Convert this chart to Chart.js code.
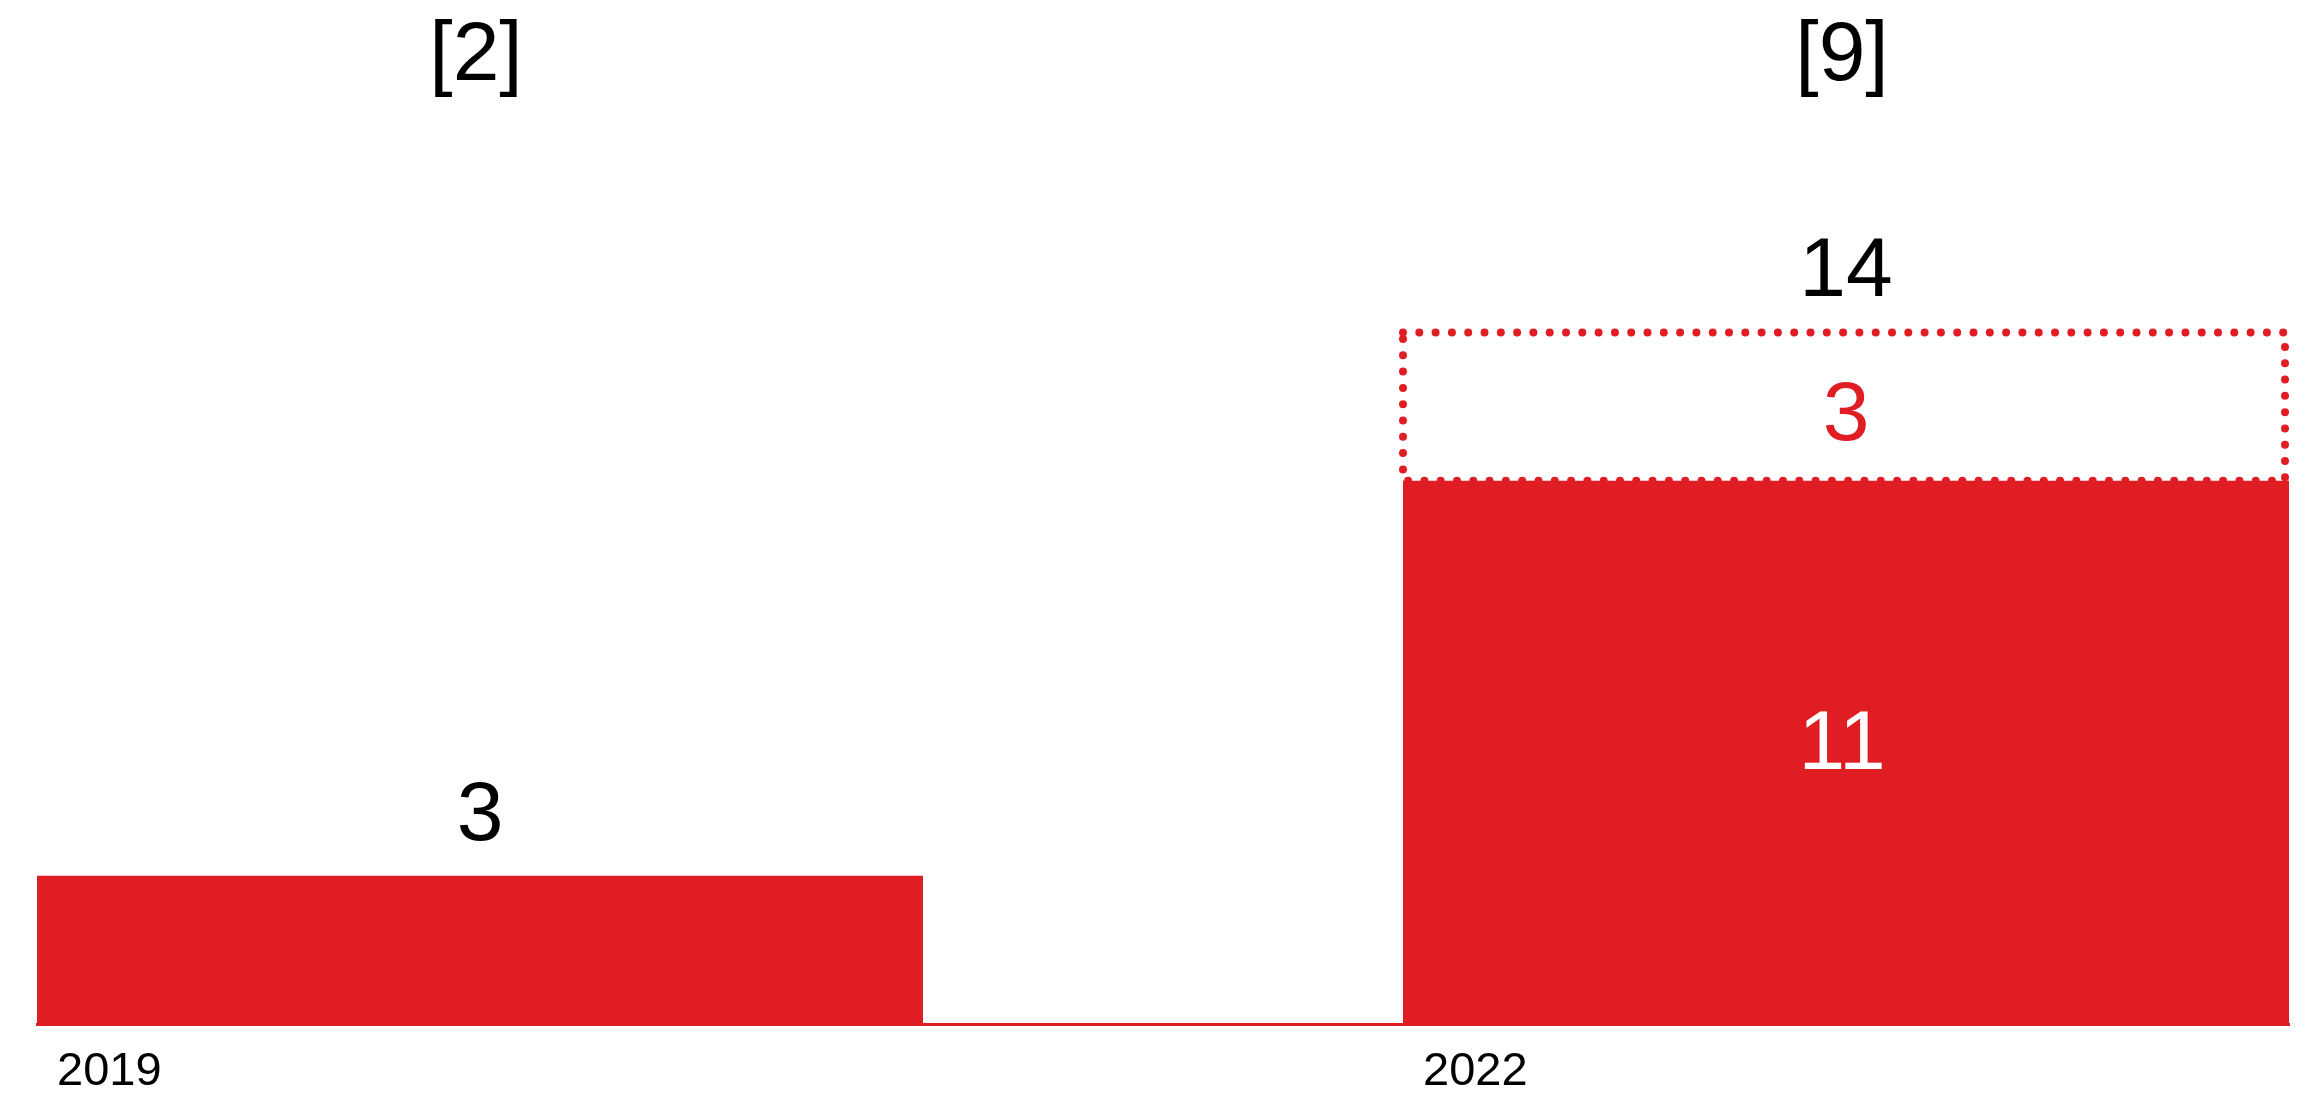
<!DOCTYPE html>
<html>
<head>
<meta charset="utf-8">
<script src="https://cdn.jsdelivr.net/npm/chart.js@4.4.1/dist/chart.umd.min.js"></script>
<style>
  html, body { margin: 0; padding: 0; background: #ffffff; }
  #wrap { width: 2311px; height: 1093px; position: relative; }
</style>
</head>
<body>
<div id="wrap"><canvas id="c"></canvas></div>
<script>
// ---- data ----
const categories = ['2019', '2022'];
const baseValues = [3, 11];
const addedValues = [null, 3];
const notes = ['[2]', '[9]'];

// ---- style ----
const RED = '#E11D24';
const FONT = '"Liberation Sans", Arial, Helvetica, sans-serif';

const labelPlugin = {
  id: 'labelPlugin',
  afterDatasetsDraw(chart) {
    const ctx = chart.ctx;
    const area = chart.chartArea;
    const baseMeta = chart.getDatasetMeta(0);
    const addMeta = chart.getDatasetMeta(1);
    ctx.save();
    // dotted outline for added segments
    addMeta.data.forEach((el, i) => {
      if (addedValues[i] == null) return;
      const left = el.x - el.width / 2;
      const right = el.x + el.width / 2;
      ctx.beginPath();
      ctx.setLineDash([0, 16.3]);
      ctx.lineCap = 'round';
      ctx.lineWidth = 8;
      ctx.strokeStyle = RED;
      ctx.strokeRect(left, el.y, right - left - 4, el.base - el.y);
    });
    ctx.setLineDash([]);
    ctx.textAlign = 'center';
    ctx.textBaseline = 'alphabetic';
    baseMeta.data.forEach((el, i) => {
      const hasAdded = addedValues[i] != null;
      const total = baseValues[i] + (hasAdded ? addedValues[i] : 0);
      const topY = hasAdded ? addMeta.data[i].y : el.y;
      ctx.font = '84px ' + FONT;
      // total above stack
      ctx.fillStyle = '#000000';
      ctx.fillText(String(total), el.x, topY - 36);
      if (hasAdded) {
        // base value inside bar (white)
        ctx.fillStyle = '#ffffff';
        ctx.fillText(String(baseValues[i]), el.x - 4, (el.y + el.base) / 2 + 17);
        // added value inside dotted box (red)
        const a = addMeta.data[i];
        ctx.fillStyle = RED;
        ctx.fillText(String(addedValues[i]), el.x, (a.y + a.base) / 2 + 33);
      }
      // notes at top
      ctx.fillStyle = '#000000';
      ctx.fillText(notes[i], el.x - 4, area.top + 80);
      // category label, left aligned near bar left edge
      ctx.font = '47px ' + FONT;
      ctx.textAlign = 'left';
      ctx.fillText(categories[i], el.x - el.width / 2 + 20, area.bottom + 61);
      ctx.textAlign = 'center';
    });
    ctx.restore();
  }
};

new Chart(document.getElementById('c'), {
  type: 'bar',
  data: {
    datasets: [
      {
        label: 'base',
        data: categories.map((c, i) => ({ x: i, y: baseValues[i] })),
        backgroundColor: RED,
        borderWidth: 0,
        categoryPercentage: 1,
        barPercentage: 0.6486
      },
      {
        label: 'added',
        data: categories.map((c, i) => ({ x: i, y: addedValues[i] })),
        backgroundColor: 'rgba(255,255,255,0)',
        borderWidth: 0,
        categoryPercentage: 1,
        barPercentage: 0.6486
      }
    ]
  },
  options: {
    responsive: true,
    maintainAspectRatio: false,
    animation: false,
    devicePixelRatio: 1,
    layout: { padding: { left: 37, right: 22, top: 0, bottom: 69 } },
    plugins: { legend: { display: false }, tooltip: { enabled: false }, title: { display: false } },
    scales: {
      x: {
        type: 'linear',
        stacked: true,
        offset: false,
        min: -0.3243,
        max: 1.3243,
        afterBuildTicks: (scale) => { scale.ticks = categories.map((c, i) => ({ value: i })); },
        grid: { display: false, drawTicks: false },
        ticks: { display: false },
        border: { display: true, color: RED, width: 3 }
      },
      y: {
        display: false,
        stacked: true,
        min: 0,
        max: 20.73
      }
    }
  },
  plugins: [labelPlugin]
});
</script>
</body>
</html>
